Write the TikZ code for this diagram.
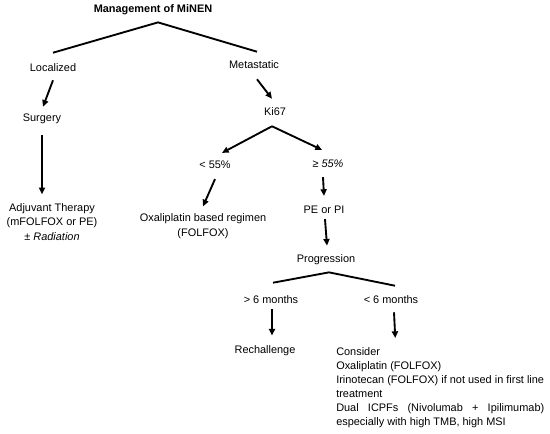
\documentclass[tikz,border=0pt]{standalone}
\usepackage{fontspec}
\setmainfont{Liberation Sans}
\usetikzlibrary{calc, arrows.meta}

\begin{document}
\begin{tikzpicture}[
  x=0.75pt, y=-0.75pt,
  txt/.style={inner sep=0pt, align=center, font=\fontsize{8.2}{10.9}\selectfont},
  ln/.style={line width=1.4pt},
  arr/.style={line width=1.4pt, ->},
  >={Triangle[length=5pt, width=4.5pt]}]
  \useasboundingbox (0,0) rectangle (550,434);
  % labels
  \node[txt, font=\fontsize{8.2}{10.9}\selectfont\bfseries] (title) at (153,10) {Management of MiNEN};
  \node[txt] (loc) at (53,68) {Localized};
  \node[txt] (meta) at (254,65) {Metastatic};
  \node[txt] (surg) at (42,119) {Surgery};
  \node[txt] (adj) at (52,222) {Adjuvant Therapy\\(mFOLFOX or PE)\\± \textit{Radiation}};
  \node[txt] (ki) at (275,112) {Ki67};
  \node[txt] (lt) at (215,165) {< 55\%};
  \node[txt] (ge) at (328,164) {≥ \textit{55\%}};
  \node[txt] (ox) at (203,226) {Oxaliplatin based regimen\\(FOLFOX)};
  \node[txt] (pe) at (324,210) {PE or PI};
  \node[txt] (prog) at (326,260) {Progression};
  \node[txt] (gt6) at (271,300) {> 6 months};
  \node[txt] (lt6) at (391,300) {< 6 months};
  \node[txt] (rech) at (265,351) {Rechallenge};
  \node[txt, anchor=north west, align=left, font=\fontsize{8.2}{10.5}\selectfont] (opts) at (336,347)
    {Consider\\Oxaliplatin (FOLFOX)\\Irinotecan (FOLFOX) if not used in first line\\treatment\\
     \hbox to 156pt{Dual\hfill ICPFs\hfill (Nivolumab\hfill +\hfill Ipilimumab)}\\especially with high TMB, high MSI};
  % branch points
  \coordinate (t0) at ($(title.south)+(5,7)$);
  \coordinate (k0) at ($(ki.south)+(-3,10)$);
  \coordinate (p0) at ($(prog.south)+(3,7)$);
  % connectors
  \draw[ln] ($(loc.north)+(0,-11)$) -- (t0) -- ($(meta.north)+(3,-9)$);
  \draw[arr] ($(loc.south)+(0,8)$) -- ($(surg.north)+(1,-7)$);
  \draw[arr] ($(surg.south)+(0,11)$) -- ($(adj.north)+(-10,-9)$);
  \draw[arr] ($(meta.south)+(3,10)$) -- ($(ki.north)+(-3,-9)$);
  \draw[arr] (k0) -- ($(lt.north)+(7,-8)$);
  \draw[arr] (k0) -- ($(ge.north)+(-6,-10)$);
  \draw[arr] ($(lt.south)+(0,10)$) -- ($(ox.north)+(0,-7)$);
  \draw[arr] ($(ge.south)+(-5,9)$) -- ($(pe.north)+(0,-10)$);
  \draw[arr] ($(pe.south)+(1,5)$) -- ($(prog.north)+(1,-9)$);
  \draw[ln] ($(gt6.north)+(2,-13)$) -- (p0) -- ($(lt6.north)+(4,-10)$);
  \draw[arr] ($(gt6.south)+(1,5)$) -- ($(rech.north)+(7,-10)$);
  \draw[arr] ($(lt6.south)+(3,8)$) -- ($(opts.north)+(-45,-9)$);
\end{tikzpicture}
\end{document}
